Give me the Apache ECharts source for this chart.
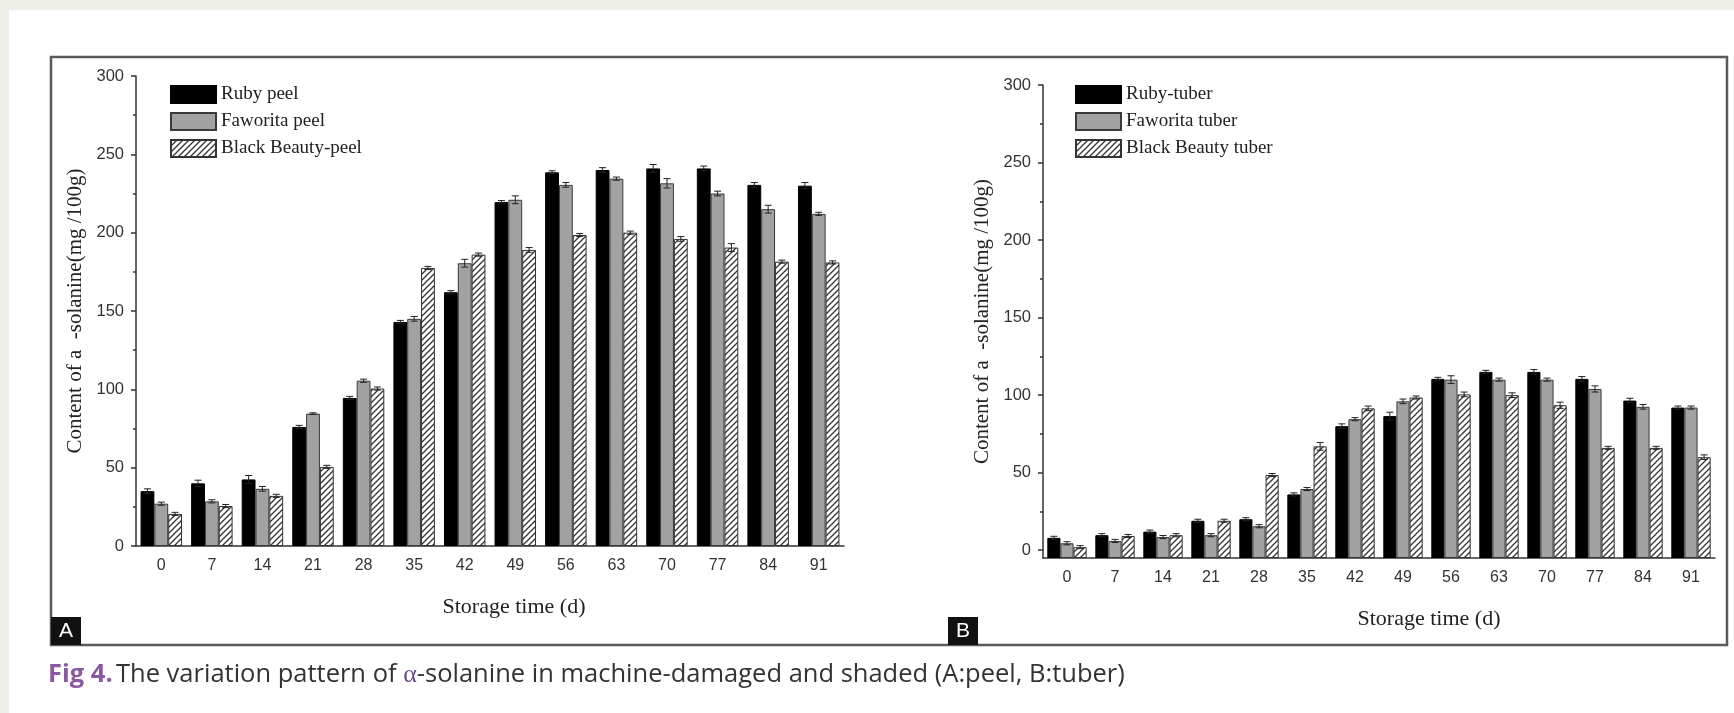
<!DOCTYPE html>
<html>
<head>
<meta charset="utf-8">
<title>Fig 4 - alpha-solanine</title>
<script src="https://cdn.jsdelivr.net/npm/echarts@6/dist/echarts.min.js"></script>
<style>
html, body { margin: 0; padding: 0; background: #efefe9; }
#chart { width: 1734px; height: 713px; }
</style>
</head>
<body>
<div id="chart"></div>
<script>
// storage days (categories)
var days = ['0', '7', '14', '21', '28', '35', '42', '49', '56', '63', '70', '77', '84', '91'];

// A: peel
var rubyPeel     = [35, 40, 42.5, 76, 94.5, 143, 162, 219.5, 238.5, 240, 241, 241, 230.5, 230];
var rubyPeelErr  = [1.5, 2, 2.5, 1, 1, 1, 1, 1, 1, 1.5, 2.5, 1.5, 1.5, 2];
var favPeel      = [27, 28.5, 36.5, 84.5, 105.5, 145, 180.5, 221, 230.5, 234.5, 231.5, 225, 215, 212];
var favPeelErr   = [1, 1, 1.5, 0.5, 1, 1.5, 2.5, 2.5, 1.5, 1, 3, 1.5, 2.5, 1];
var bbPeel       = [20.5, 25.5, 32, 50.5, 100.5, 177.5, 186, 189, 198.5, 200, 196, 190.5, 181.5, 181];
var bbPeelErr    = [1, 1, 1, 1, 1, 1, 1, 1.5, 1, 1, 1.5, 2.5, 1, 1];

// B: tuber
var rubyTuber    = [8, 9.7, 12, 19, 20, 36, 80, 86.5, 110.5, 115, 115, 110.5, 96.5, 92];
var rubyTuberErr = [1, 1, 1, 1, 1, 1, 1.5, 2.5, 1, 1, 1.5, 1.5, 1.5, 1];
var favTuber     = [4.5, 6, 8.5, 9.7, 15.5, 39.5, 84.5, 96, 110, 110, 110, 104, 92.5, 92];
var favTuberErr  = [1, 1, 1, 1, 1, 1, 1, 1.5, 2.5, 1, 1, 2, 1.5, 1];
var bbTuber      = [2, 9.2, 9.7, 19, 48.5, 67, 91.5, 98.5, 100.5, 100, 93.5, 66, 66, 60];
var bbTuberErr   = [1, 1, 1, 1, 1, 2.5, 1.5, 1, 1.5, 1.5, 2, 1, 1, 1.5];

var yTicks = [0, 50, 100, 150, 200, 250, 300];
var yMinorTicks = [25, 75, 125, 175, 225, 275];

var GAP = 0.18;
var sans = 'Liberation Sans';
var serif = 'Liberation Serif';
var axisColor = '#333';

function hatchCanvas() {
  var c = document.createElement('canvas');
  c.width = 6; c.height = 6;
  var ctx = c.getContext('2d');
  ctx.fillStyle = '#fff';
  ctx.fillRect(0, 0, 6, 6);
  ctx.strokeStyle = '#333';
  ctx.lineWidth = 1.3;
  ctx.beginPath();
  ctx.moveTo(0, 6); ctx.lineTo(6, 0);
  ctx.moveTo(-1, 1); ctx.lineTo(1, -1);
  ctx.moveTo(5, 7); ctx.lineTo(7, 5);
  ctx.stroke();
  return c;
}
var hatch = hatchCanvas();

var blackStyle = { color: '#000', borderColor: '#000', borderWidth: 1 };
var greyStyle = { color: '#a2a2a2', borderColor: '#3a3a3a', borderWidth: 1 };
var hatchStyle = { color: { image: hatch, repeat: 'repeat' }, borderColor: '#333', borderWidth: 1 };

function bar(name, data, style, idx) {
  return {
    name: name, type: 'bar', xAxisIndex: idx, yAxisIndex: idx,
    data: data, barGap: '0%', barCategoryGap: (GAP * 100) + '%',
    itemStyle: style, emphasis: { disabled: true }, z: 2
  };
}

function errBar(vals, errs, k, idx) {
  return {
    type: 'custom', xAxisIndex: idx, yAxisIndex: idx, z: 5, silent: true,
    data: vals.map(function (v, i) { return [i, v, errs[i]]; }),
    renderItem: function (params, api) {
      var i = api.value(0), v = api.value(1), e = api.value(2);
      var band = api.size([1, 0])[0];
      var bw = band * (1 - GAP) / 3;
      var top = api.coord([i, v + e]);
      var bot = api.coord([i, v - e]);
      var x = top[0] + (k - 1) * bw;
      var cap = 3.5;
      var st = { stroke: '#222', lineWidth: 1 };
      return {
        type: 'group', children: [
          { type: 'line', shape: { x1: x, y1: top[1], x2: x, y2: bot[1] }, style: st },
          { type: 'line', shape: { x1: x - cap, y1: top[1], x2: x + cap, y2: top[1] }, style: st },
          { type: 'line', shape: { x1: x - cap, y1: bot[1], x2: x + cap, y2: bot[1] }, style: st }
        ]
      };
    }
  };
}

function catAxis(gridIndex, shift) {
  return {
    gridIndex: gridIndex, type: 'category', data: days, position: 'bottom',
    axisLine: { onZero: false, lineStyle: { color: axisColor, width: 1.5 } },
    axisTick: { alignWithLabel: true, length: 7, lineStyle: { color: axisColor, width: 1.5 } },
    axisLabel: { fontFamily: sans, fontSize: 16, color: '#333', margin: 12 },
    splitLine: { show: false },
    name: 'Storage time (d)', nameLocation: 'middle', nameGap: 50,
    nameTextStyle: { fontFamily: serif, fontSize: 22, color: '#222', padding: [0, 0, 0, shift] }
  };
}
function boundaryAxis(gridIndex) {
  return {
    gridIndex: gridIndex, type: 'category', data: days, position: 'bottom',
    axisLine: { show: false, onZero: false },
    axisTick: { length: 4, lineStyle: { color: axisColor, width: 1.5 } },
    axisLabel: { show: false }, splitLine: { show: false }
  };
}
function valAxis(gridIndex, min) {
  return {
    gridIndex: gridIndex, type: 'value', position: 'left', min: min, max: 300, startValue: min,
    axisLine: { show: true, onZero: false, lineStyle: { color: axisColor, width: 1.5 } },
    axisTick: { show: true, length: 5, customValues: yTicks, lineStyle: { color: axisColor, width: 1.5 } },
    axisLabel: { fontFamily: sans, fontSize: 16.5, color: '#333', margin: 12, customValues: yTicks },
    splitLine: { show: false },
    name: 'Content of a  -solanine(mg /100g)', nameLocation: 'middle', nameGap: 50,
    nameTextStyle: { fontFamily: serif, fontSize: 21, color: '#222' }
  };
}
function minorAxis(gridIndex, min) {
  return {
    gridIndex: gridIndex, type: 'value', position: 'left', min: min, max: 300,
    axisLine: { show: false, onZero: false },
    axisTick: { show: true, length: 3, customValues: yMinorTicks, lineStyle: { color: axisColor, width: 1.5 } },
    axisLabel: { show: false }, splitLine: { show: false }
  };
}

function legend(names, left) {
  return {
    data: names, orient: 'vertical', left: left, top: 85, padding: 0,
    itemWidth: 45, itemHeight: 17, itemGap: 8, icon: 'rect',
    textStyle: { fontFamily: serif, fontSize: 19, color: '#222' },
    selectedMode: false
  };
}

function panelTag(letter, x) {
  return {
    type: 'group', left: x, top: 617, children: [
      { type: 'rect', shape: { x: 0, y: 0, width: 30, height: 28 }, style: { fill: '#111' } },
      { type: 'text', x: 15, y: 14, style: { text: letter, fill: '#fff', font: '21px "Liberation Sans"', align: 'center', verticalAlign: 'middle' } }
    ]
  };
}

var chart = echarts.init(document.getElementById('chart'));
chart.setOption({
  animation: false,
  graphic: [
    { type: 'rect', z: -10, shape: { x: 9, y: 10, width: 1725, height: 703 }, style: { fill: '#fff' } },
    { type: 'rect', z: -9, shape: { x: 51, y: 57, width: 1676, height: 588 }, style: { fill: 'none', stroke: '#5a5a5a', lineWidth: 2.5 } },
    panelTag('A', 51),
    panelTag('B', 948),
    {
      type: 'text', left: 48, top: 662,
      style: {
        text: '{a|Fig 4.} {b|The variation pattern of }{c|α}{b|-solanine in machine-damaged and shaded (A:peel, B:tuber)}',
        rich: {
          a: { fontFamily: 'Open Sans', fontSize: 25.5, fontWeight: 'bold', fill: '#8a5aa0' },
          b: { fontFamily: 'Open Sans', fontSize: 25.5, fill: '#333' },
          c: { fontFamily: serif, fontSize: 26, fill: '#6a4e8a' }
        }
      }
    }
  ],
  legend: [
    legend(['Ruby peel', 'Faworita peel', 'Black Beauty-peel'], 170),
    legend(['Ruby-tuber', 'Faworita tuber', 'Black Beauty tuber'], 1075)
  ],
  grid: [
    { left: 136, top: 76, width: 708, height: 470, outerBoundsMode: 'none' },
    { left: 1043, top: 85, width: 672, height: 473, outerBoundsMode: 'none' }
  ],
  xAxis: [catAxis(0, 48), catAxis(1, 100), boundaryAxis(0), boundaryAxis(1)],
  yAxis: [valAxis(0, 0), valAxis(1, -5), minorAxis(0, 0), minorAxis(1, -5)],
  series: [
    bar('Ruby peel', rubyPeel, blackStyle, 0),
    bar('Faworita peel', favPeel, greyStyle, 0),
    bar('Black Beauty-peel', bbPeel, hatchStyle, 0),
    errBar(rubyPeel, rubyPeelErr, 0, 0),
    errBar(favPeel, favPeelErr, 1, 0),
    errBar(bbPeel, bbPeelErr, 2, 0),
    bar('Ruby-tuber', rubyTuber, blackStyle, 1),
    bar('Faworita tuber', favTuber, greyStyle, 1),
    bar('Black Beauty tuber', bbTuber, hatchStyle, 1),
    errBar(rubyTuber, rubyTuberErr, 0, 1),
    errBar(favTuber, favTuberErr, 1, 1),
    errBar(bbTuber, bbTuberErr, 2, 1)
  ]
});
</script>
</body>
</html>
